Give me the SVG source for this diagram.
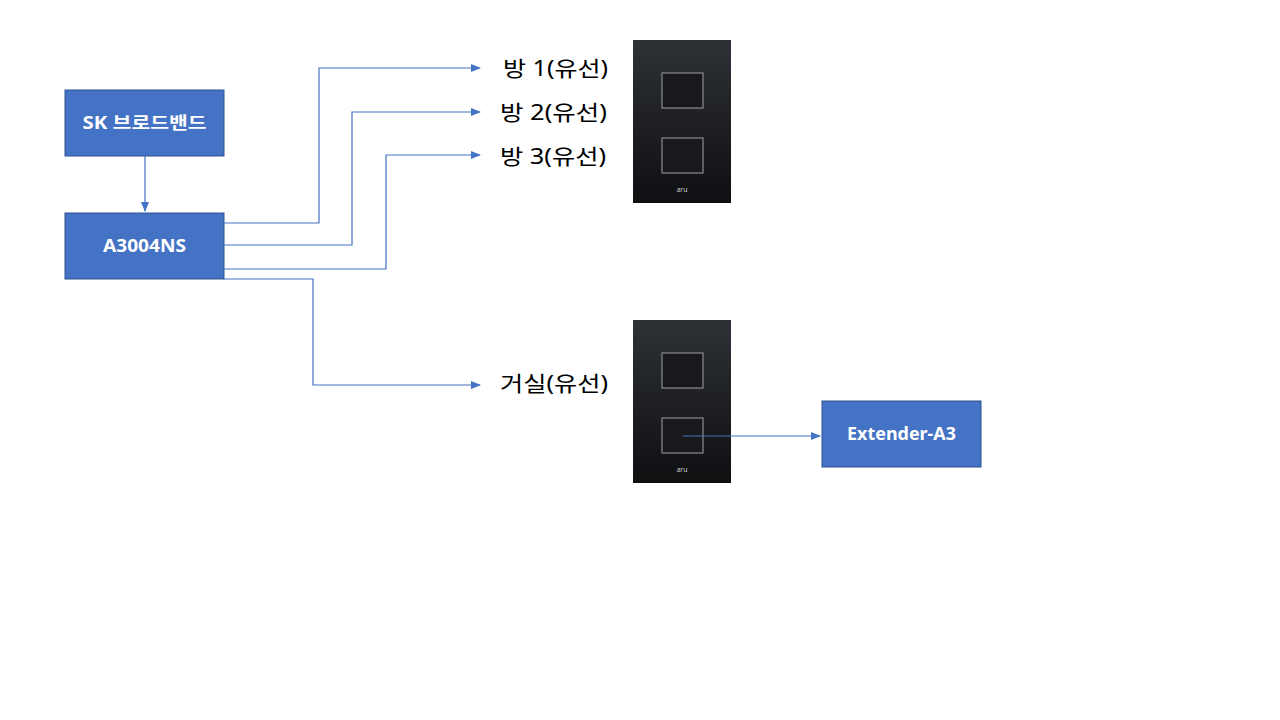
<svg xmlns="http://www.w3.org/2000/svg" width="1280" height="720" viewBox="0 0 1280 720">
<style>
.box{fill:#4472C4;stroke:#2F528F;stroke-width:1}
.bt{fill:#fff;font-family:"Noto Sans","Noto Sans CJK KR",sans-serif;font-size:17px;font-weight:bold;text-anchor:middle}
.lb{fill:#000;font-family:"Noto Sans","Noto Sans CJK KR",sans-serif;font-size:21px}
.ln{fill:none;stroke:#4472C4;stroke-width:1.2}
.mod{fill:#18191c;stroke:#8a8c90;stroke-width:1.2}
</style>
<defs>
<marker id="ah" markerWidth="10" markerHeight="8" refX="9" refY="4" orient="auto" markerUnits="userSpaceOnUse">
<path d="M0,0 L10,4 L0,8 z" fill="#4472C4"/>
</marker>
<linearGradient id="pg" x1="0" y1="0" x2="0" y2="1">
<stop offset="0" stop-color="#2e3136"/><stop offset="1" stop-color="#0e0f11"/>
</linearGradient>
</defs>
<rect width="1280" height="720" fill="#fff"/>
<g id="plate1">
<rect x="633" y="40" width="98" height="163" fill="url(#pg)"/>
<rect class="mod" x="662" y="73" width="41" height="35"/>
<rect class="mod" x="662" y="138" width="41" height="35"/>
<text x="682" y="192" fill="#ccc" font-family="Noto Sans, sans-serif" font-size="7" text-anchor="middle">aru</text>
</g>
<g id="plate2">
<rect x="633" y="320" width="98" height="163" fill="url(#pg)"/>
<rect class="mod" x="662" y="353" width="41" height="35"/>
<rect class="mod" x="662" y="418" width="41" height="35"/>
<text x="682" y="472" fill="#ccc" font-family="Noto Sans, sans-serif" font-size="7" text-anchor="middle">aru</text>
</g>
<g id="sk"><rect class="box" x="65" y="90" width="159" height="66"/><text class="bt" x="144.5" y="129" textLength="124" lengthAdjust="spacingAndGlyphs">SK 브로드밴드</text></g>
<g id="a3004ns"><rect class="box" x="65" y="213" width="159" height="66"/><text class="bt" x="144.5" y="252" textLength="83" lengthAdjust="spacingAndGlyphs">A3004NS</text></g>
<g id="extender"><rect class="box" x="822" y="401" width="159" height="66"/><text class="bt" x="901.5" y="440" textLength="109" lengthAdjust="spacingAndGlyphs">Extender-A3</text></g>
<g id="labels">
<text class="lb" x="503" y="76" textLength="105" lengthAdjust="spacingAndGlyphs">방 1(유선)</text>
<text class="lb" x="500" y="120" textLength="107" lengthAdjust="spacingAndGlyphs">방 2(유선)</text>
<text class="lb" x="500" y="164" textLength="106" lengthAdjust="spacingAndGlyphs">방 3(유선)</text>
<text class="lb" x="500" y="391" textLength="108" lengthAdjust="spacingAndGlyphs">거실(유선)</text>
</g>
<g id="connectors">
<path class="ln" d="M145,156 V211" marker-end="url(#ah)"/>
<path class="ln" d="M224,223 H319 V68 H480" marker-end="url(#ah)"/>
<path class="ln" d="M224,245 H352 V112 H480" marker-end="url(#ah)"/>
<path class="ln" d="M224,269 H386 V155 H480" marker-end="url(#ah)"/>
<path class="ln" d="M224,279 H313 V385 H480" marker-end="url(#ah)"/>
<path class="ln" d="M683,436 H820" marker-end="url(#ah)"/>
</g>
</svg>
